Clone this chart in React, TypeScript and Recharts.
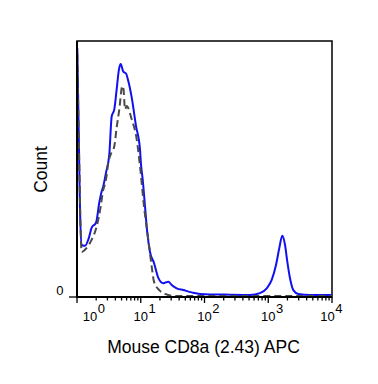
import React from "react";
import { LineChart, Line, XAxis, YAxis, ReferenceArea } from "recharts";

// fluorescence values (x) and counts (% of max)
const stainedX = [
  1.01, 1.056, 1.115, 1.185, 1.335, 1.504, 1.701, 1.987, 2.238, 2.441, 2.585, 2.851,
  3.212, 3.502, 3.847, 4.195, 4.559, 4.849, 5.325, 5.87, 6.377, 7.211, 8.425, 9.732,
  10.09, 10.73, 11.66, 12.67, 13.97, 16.14, 18.85, 22.58, 27.05, 30.59, 36.64, 46.5,
  63, 85, 251, 517, 742, 946, 1133, 1323, 1490, 1661, 1831, 1990, 2194, 2471, 2961,
  4517, 10000,
];
const stainedCount = [
  97.3, 69.4, 34.1, 20.4, 20.0, 22.4, 27.1, 29.0, 36.9, 41.3, 43.3, 48.6,
  55.7, 70.6, 73.3, 81.2, 89.0, 91.0, 88.0, 87.3, 84.4, 78.0, 66.8, 57.6,
  51.8, 45.9, 35.4, 25.1, 17.6, 13.3, 7.5, 5.4, 6.0, 4.7, 3.4, 2.7,
  1.8, 1.2, 0.9, 0.8, 1.5, 3.4, 6.7, 12.5, 19.1, 23.9, 20.4, 13.8, 7.3, 2.7, 1.2,
  0.8, 0.8,
];

const controlX = [
  1.011, 1.075, 1.185, 1.419, 1.701, 2.037, 2.354, 2.53, 2.851, 3.097, 3.378, 3.847,
  4.195, 4.609, 5.135, 5.363, 5.661, 6.02, 7.211, 8.641, 9.732, 11.25, 13.14, 14.85,
  16.14, 19.54, 24.01, 34.45, 10000,
];
const controlCount = [
  94.9, 57.6, 17.6, 19.2, 22.4, 27.6, 35.4, 40.8, 45.9, 52.5, 55.7, 58.9,
  66.3, 73.3, 82.4, 81.2, 73.3, 74.6, 69.4, 61.6, 51.1, 35.4, 22.4, 11.9,
  6.0, 2.7, 1.2, 0.4, 0.4,
];

const decades = [1, 10, 100, 1000, 10000];
const minorSteps = [2, 3, 4, 5, 6, 7, 8, 9];
const yTicks = [0];

const xTitle = "Mouse CD8a (2.43) APC";
const yTitle = "Count";

const FONT = "'Liberation Sans', Arial, sans-serif";

const stainedData = stainedX.map((x, i) => ({ x, count: stainedCount[i] }));
const controlData = controlX.map((x, i) => ({ x, count: controlCount[i] }));

const xTicks = decades.flatMap((d, i) =>
  i < decades.length - 1 ? [d, ...minorSteps.map((m) => d * m)] : [d]
);

function XTick(props: any) {
  const { x, y, payload } = props;
  const v = payload.value;
  const major = decades.includes(v);
  let shift = 0;
  if (v === decades[0]) shift = 13;
  if (v === decades[decades.length - 1]) shift = -4.5;
  return (
    <g>
      <line x1={x} x2={x} y1={y} y2={y + (major ? 6 : 3.5)} stroke="#000" strokeWidth={1.3} />
      {major && (
        <>
          <text x={x + shift} y={y + 24} textAnchor="middle" fontSize={13} fontFamily={FONT} fill="#000">
            10
          </text>
          <text x={x + shift + 7.8} y={y + 15.7} textAnchor="start" fontSize={13} fontFamily={FONT} fill="#000">
            {Math.round(Math.log10(v))}
          </text>
        </>
      )}
    </g>
  );
}

function YTick(props: any) {
  const { x, y, payload } = props;
  return (
    <g>
      <line x1={x - 8} x2={x} y1={y} y2={y} stroke="#000" strokeWidth={1.3} />
      <text x={x - 13.5} y={y - 2} textAnchor="end" fontSize={13} fontFamily={FONT} fill="#000">
        {payload.value}
      </text>
    </g>
  );
}

export default function App() {
  return (
    <div style={{ position: "absolute", left: 0, top: 0, width: 378, height: 384, background: "#fff" }}>
      <LineChart width={378} height={384} margin={{ top: 41, right: 46, bottom: 57, left: 0 }}>
        <XAxis
          dataKey="x"
          type="number"
          scale="log"
          domain={[1, 10000]}
          allowDataOverflow
          ticks={xTicks}
          interval={0}
          tickSize={0}
          tickMargin={0}
          tickLine={false}
          tick={<XTick />}
          axisLine={{ stroke: "#000", strokeWidth: 2 }}
          height={30}
          label={{
            content: () => (
              <text x={203.5} y={352.7} textAnchor="middle" fontSize={17.5} fontFamily={FONT} fill="#000">
                {xTitle}
              </text>
            ),
          }}
        />
        <YAxis
          type="number"
          domain={[0, 100]}
          allowDataOverflow
          ticks={yTicks}
          width={77}
          tickSize={0}
          tickMargin={0}
          tickLine={false}
          tick={<YTick />}
          axisLine={{ stroke: "#000", strokeWidth: 2 }}
          label={{
            content: () => (
              <text
                x={46.5}
                y={169.5}
                transform="rotate(-90, 46.5, 169.5)"
                textAnchor="middle"
                fontSize={17.5}
                fontFamily={FONT}
                fill="#000"
              >
                {yTitle}
              </text>
            ),
          }}
        />
        <ReferenceArea x1={1} x2={10000} y1={0} y2={100} fill="none" stroke="#000" strokeWidth={1.5} ifOverflow="visible" />
        <Line
          data={stainedData}
          dataKey="count"
          type="monotone"
          stroke="#1010f0"
          strokeWidth={2}
          dot={false}
          isAnimationActive={false}
        />
        <Line
          data={controlData}
          dataKey="count"
          type="monotone"
          stroke="#4a4a4a"
          strokeWidth={2}
          strokeDasharray="7 4"
          dot={false}
          isAnimationActive={false}
        />
      </LineChart>
    </div>
  );
}
